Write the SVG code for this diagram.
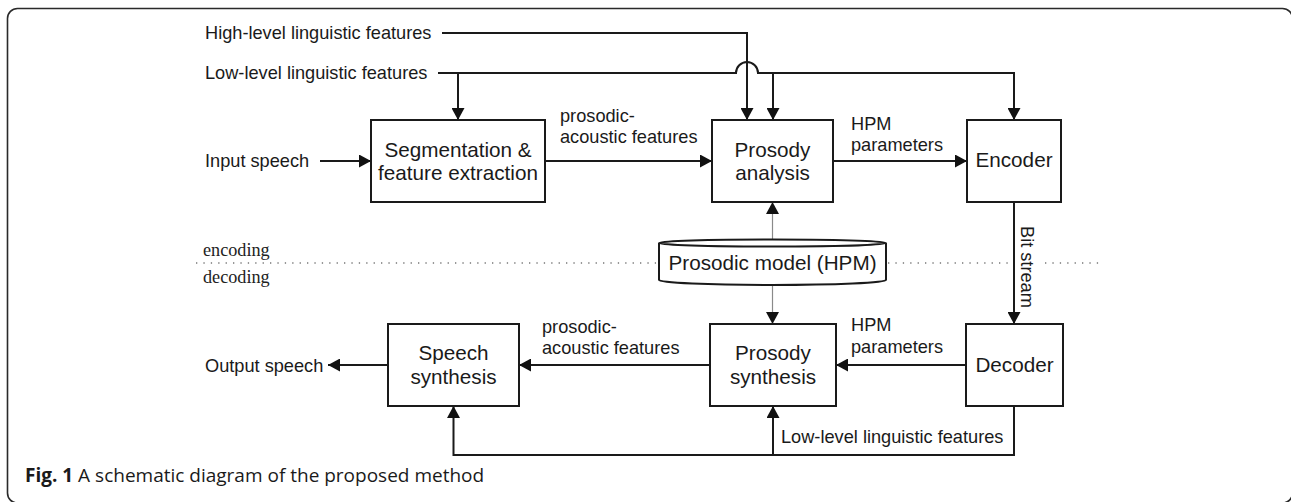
<svg xmlns="http://www.w3.org/2000/svg" width="1291" height="502" viewBox="0 0 1291 502">
  <style>
    .frame { fill: none; stroke: #2a2a2a; stroke-width: 1.6; }
    .box { fill: #fff; stroke: #1a1a1a; stroke-width: 2; }
    .btxt { font-family: "Liberation Sans", Arial, sans-serif; font-size: 20.7px; fill: #1a1a1a; text-anchor: middle; }
    .lbl { font-family: "Liberation Sans", Arial, sans-serif; font-size: 18.2px; fill: #1a1a1a; }
    .serif { font-family: "Liberation Serif", "Times New Roman", serif; font-size: 18.2px; fill: #222; }
    .cap { font-family: "Open Sans", "Noto Sans", sans-serif; font-size: 19px; fill: #1a1a1a; }
    .wire { fill: none; stroke: #1a1a1a; stroke-width: 2; }
    .thin { fill: none; stroke: #8a8a8a; stroke-width: 1.2; }
    .dots { fill: none; stroke: #777; stroke-width: 1.6; stroke-dasharray: 1.3 6.1; }
  </style>
  <defs>
    <marker id="arrow" markerUnits="userSpaceOnUse" markerWidth="12" markerHeight="13" refX="12" refY="6.5" orient="auto">
      <path d="M0,0 L12,6.5 L0,13 z" fill="#111"/>
    </marker>
  </defs>

  <rect width="1291" height="502" fill="#fff"/>
  <rect class="frame" x="7.5" y="8.5" width="1285" height="494.5" rx="10"/>

  <!-- encoding / decoding separator -->
  <g id="separator">
    <path class="dots" d="M196,263 H656 M888,263 H1010 M1045,263 H1104"/>
    <text class="serif" x="203" y="256">encoding</text>
    <text class="serif" x="203" y="283">decoding</text>
  </g>

  <!-- connectors -->
  <g id="connectors">
    <path class="wire" d="M442,33 H747 V120" marker-end="url(#arrow)"/>
    <path class="wire" d="M438,73 H736 A11,11 0 0 1 758,73 H1014 V120" marker-end="url(#arrow)"/>
    <path class="wire" d="M458,73 V120" marker-end="url(#arrow)"/>
    <path class="wire" d="M773,73 V120" marker-end="url(#arrow)"/>
    <path class="wire" d="M320,161 H371" marker-end="url(#arrow)"/>
    <path class="wire" d="M545,161 H712" marker-end="url(#arrow)"/>
    <path class="wire" d="M833,161 H967" marker-end="url(#arrow)"/>
    <path class="wire" d="M1014,202 V324" marker-end="url(#arrow)"/>
    <path class="thin" d="M772.5,240 V202" marker-end="url(#arrow)"/>
    <path class="thin" d="M772.5,285 V324" marker-end="url(#arrow)"/>
    <path class="wire" d="M966,365 H836" marker-end="url(#arrow)"/>
    <path class="wire" d="M710,365 H519" marker-end="url(#arrow)"/>
    <path class="wire" d="M388,365 H328" marker-end="url(#arrow)"/>
    <path class="wire" d="M1014,406 V455 H453.5 V406" marker-end="url(#arrow)"/>
    <path class="wire" d="M773,455 V406" marker-end="url(#arrow)"/>

    <text class="lbl" x="205" y="39">High-level linguistic features</text>
    <text class="lbl" x="205" y="79">Low-level linguistic features</text>
    <text class="lbl" x="205" y="167">Input speech</text>
    <text class="lbl" x="560" y="122">prosodic-</text>
    <text class="lbl" x="560" y="143">acoustic features</text>
    <text class="lbl" x="851" y="130">HPM</text>
    <text class="lbl" x="851" y="151">parameters</text>
    <text class="lbl" transform="translate(1021,226) rotate(90)">Bit stream</text>
    <text class="lbl" x="851" y="331">HPM</text>
    <text class="lbl" x="851" y="353">parameters</text>
    <text class="lbl" x="542" y="333">prosodic-</text>
    <text class="lbl" x="542" y="354">acoustic features</text>
    <text class="lbl" x="205" y="372">Output speech</text>
    <text class="lbl" x="781" y="443">Low-level linguistic features</text>
  </g>

  <!-- nodes -->
  <g id="segmentation">
    <rect class="box" x="371" y="120" width="174" height="82"/>
    <text class="btxt" x="458" y="157">Segmentation &amp;</text>
    <text class="btxt" x="458" y="180">feature extraction</text>
  </g>
  <g id="prosody-analysis">
    <rect class="box" x="712" y="120" width="121" height="82"/>
    <text class="btxt" x="772.5" y="157">Prosody</text>
    <text class="btxt" x="772.5" y="180">analysis</text>
  </g>
  <g id="encoder">
    <rect class="box" x="967" y="120" width="94" height="82"/>
    <text class="btxt" x="1014" y="167">Encoder</text>
  </g>
  <g id="prosodic-model">
    <path class="box" d="M659,243 V280 A113.5,5 0 0 0 886,280 V243"/>
    <ellipse class="box" cx="772.5" cy="243" rx="113.5" ry="3.5"/>
    <text class="btxt" x="772.5" y="270">Prosodic model (HPM)</text>
  </g>
  <g id="speech-synthesis">
    <rect class="box" x="388" y="324" width="131" height="82"/>
    <text class="btxt" x="453.5" y="360">Speech</text>
    <text class="btxt" x="453.5" y="384">synthesis</text>
  </g>
  <g id="prosody-synthesis">
    <rect class="box" x="710" y="324" width="126" height="82"/>
    <text class="btxt" x="773" y="360">Prosody</text>
    <text class="btxt" x="773" y="384">synthesis</text>
  </g>
  <g id="decoder">
    <rect class="box" x="966" y="324" width="97" height="82"/>
    <text class="btxt" x="1014.5" y="372">Decoder</text>
  </g>

  <text class="cap" x="25" y="482"><tspan font-weight="bold">Fig. 1</tspan> A schematic diagram of the proposed method</text>
</svg>
